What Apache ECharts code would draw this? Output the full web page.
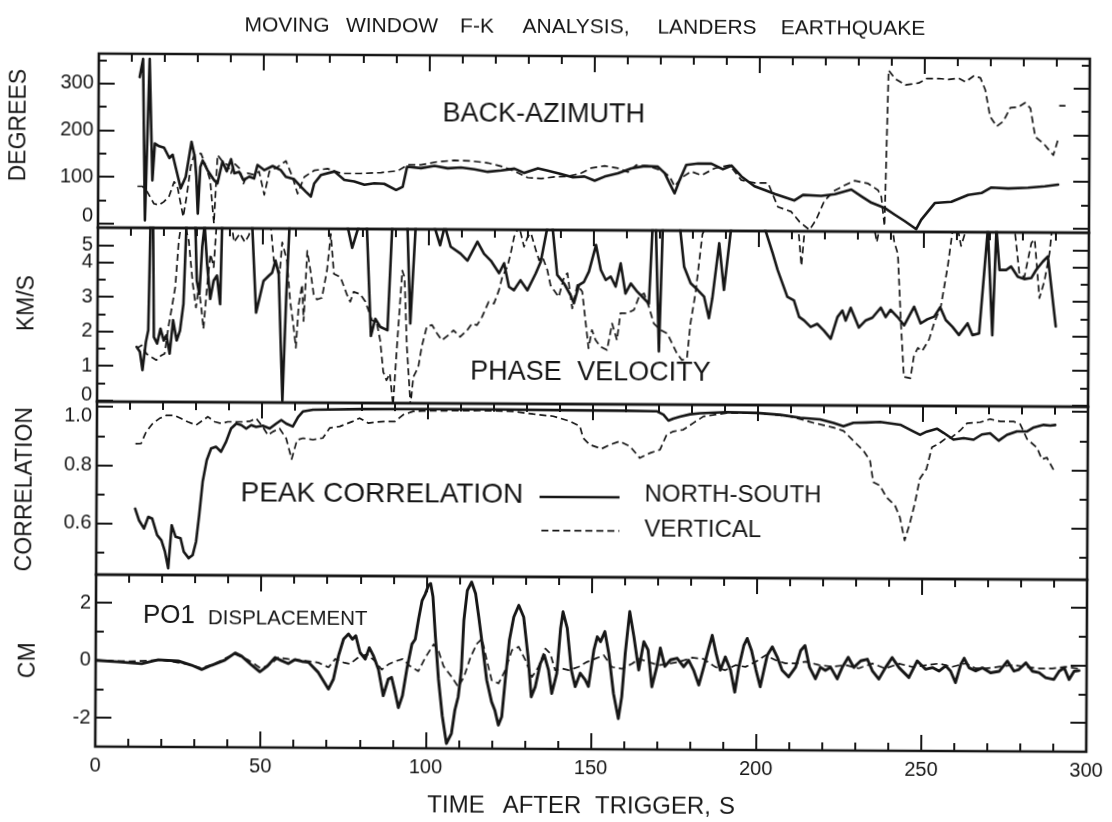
<!DOCTYPE html>
<html>
<head>
<meta charset="utf-8">
<title>Moving window F-K analysis, Landers earthquake</title>
<script src="https://cdn.jsdelivr.net/npm/echarts@6/dist/echarts.min.js"></script>
<style>
  html, body { margin: 0; padding: 0; background: #ffffff; }
  #chart { width: 1112px; height: 822px; transform: rotate(0.3deg); transform-origin: 50% 50%; }
</style>
</head>
<body>
<div id="chart"></div>
<script>
// ---------- time axis (seconds after trigger) ----------
const timeMajor = [0, 50, 100, 150, 200, 250, 300];
const timeMinor = [10, 20, 30, 40, 60, 70, 80, 90, 110, 120, 130, 140, 160, 170, 180, 190, 210, 220, 230, 240, 260, 270, 280, 290];
const timeLabelAt = [0, 50, 100, 150, 200, 250, 300];

// ---------- back-azimuth (degrees) ----------
const azMajor = [0, 100, 200, 300];
const azMinor = [50, 150, 250, 350];
const azLabelAt = [0, 100, 200, 300];
const azLabelText = ['0', '100', '200', '300'];
const azNS = [[12.4,314],[13.4,353],[14.2,7],[15.4,353],[16.4,93],[17.1,172],[18.4,166],[19.9,163],[21.5,141],[22.5,148],[23.5,119],[25,76],[26.5,101],[28.2,176],[29.2,144],[29.7,101],[30.2,22],[30.9,122],[31.6,136],[33.1,115],[35.1,94],[36.1,87],[37.6,134],[38.9,113],[40.2,139],[41.2,109],[42.7,112],[44,94],[45.7,102],[47.2,98],[48.2,127],[50.3,116],[52.8,125],[55.3,116],[56.8,102],[59.3,97],[61.4,81],[62.9,70],[64.4,60],[65.4,88],[67.4,106],[71.5,114],[74.5,96],[77.5,93],[80.6,86],[83.6,89],[86.6,88],[90.2,75],[92.2,82],[93.5,125],[97.7,122],[101.8,127],[105.8,122],[109.8,124],[113.9,120],[117.9,115],[122,118],[126,122],[129,113],[133.1,123],[136.1,118],[140.1,111],[143.7,104],[147.2,106],[150.3,97],[153.3,106],[157.3,113],[161.4,124],[165.4,129],[169.4,128],[171.5,114],[173,92],[174.5,71],[176,99],[178,132],[181.6,135],[185.6,135],[189.1,123],[191.7,131],[194.7,108],[198.7,87],[201.8,79],[204.8,71],[210.8,57],[213.4,69],[218.9,67],[223,71],[228,81],[231,67],[234.1,53],[238.1,42],[241.1,28],[244.2,14],[247.7,-3],[249.2,17],[253.3,53],[258.3,56],[263.4,71],[267.4,75],[270.4,87],[275.5,85],[281.5,87],[286.6,90],[290.6,94]];
const azV = [[11.9,80],[13.4,80],[14.9,68],[16.9,43],[18.4,40],[19.9,47],[21.5,59],[23,90],[24,80],[24.8,51],[25.8,15],[26.8,59],[28,123],[29,148],[31.1,151],[32.6,123],[33.9,94],[35.1,1],[36.1,148],[37.6,134],[39.1,127],[40.2,109],[41.2,130],[42.7,120],[44,87],[45.2,109],[47.2,106],[48.7,113],[50.3,63],[51.8,113],[54.3,123],[56.8,136],[58.8,102],[60.4,66],[62.4,102],[65.4,116],[69.4,120],[73.5,110],[79.5,110],[85.6,112],[90.7,116],[93.7,129],[97.7,129],[102.8,136],[107.8,139],[112.9,138],[117.9,134],[122,127],[126,117],[130,103],[134.1,101],[138.1,105],[142.2,106],[146.2,113],[149.2,124],[153.3,129],[157.3,124],[160.4,116],[162.9,131],[166.4,129],[170.5,120],[173,107],[174.5,86],[176.5,104],[179.5,118],[182.6,110],[186.6,125],[191.1,132],[194.7,100],[198.7,94],[202.8,94],[205.8,43],[209.8,33],[212.4,11],[215.4,-6],[217.4,16],[219.9,57],[223,79],[226,90],[229,100],[233.1,94],[236.1,80],[237.1,66],[238.1,3],[239.1,337],[241.1,319],[244.2,306],[248.2,310],[250.7,320],[254.3,320],[257.3,318],[260.3,321],[262.4,313],[264.9,326],[266.9,322],[268.4,296],[269.9,239],[271.9,218],[273.9,229],[276,258],[278.5,260],[280.5,269],[282.1,257],[283.6,196],[286.1,182],[289.1,157],[290.6,193],[290.7,'-'],[290.8,263],[292.7,263]];

// ---------- phase velocity (km/s) ----------
const velMajor = [0, 1, 2, 3, 4, 4.5];
const velMinor = [0.5, 1.5, 2.5, 3.5];
const velLabelAt = [0, 1, 2, 3, 4];
const velLabelText = ['0', '1', '2', '3', '4'];
const velTopLabelAt = [4.5];
const velTopLabelText = ['5'];
const velNS = [[11.9,1.55],[12.9,1.41],[13.7,0.88],[14.7,1.7],[15.4,2.04],[15.9,5.1],[16.7,5.1],[17.1,1.84],[18.1,1.65],[19.1,2.08],[20.1,1.74],[20.9,1.89],[21.9,1.36],[22.9,2.33],[24,1.74],[25,2.03],[26,2.8],[26.8,5.1],[29.5,5.1],[30,3.48],[30.8,3.09],[31.6,4.46],[32.3,5.1],[33.1,3.97],[34.1,2.95],[35.1,3.48],[36.1,3.63],[37.1,2.8],[37.6,5.1],[46.7,5.1],[48,2.56],[50.2,3.48],[51.8,3.63],[52.8,3.72],[53.8,4.07],[54.8,3.68],[56.1,0.02],[57.1,3.0],[58,5.1],[75.5,5.1],[77,4.45],[79,5.1],[81.4,5.1],[82.8,1.9],[84.1,2.4],[85.6,2.17],[87.8,2.07],[89.1,5.1],[93.7,5.1],[94.7,2.27],[96.2,5.1],[101.8,5.1],[103.6,4.54],[105,5.1],[106.8,4.5],[109.8,4.3],[111.9,4.1],[114.9,4.65],[116.9,4.3],[119,4.1],[121.5,3.74],[123,4.03],[124.5,3.35],[126,3.25],[128,3.54],[130.1,3.25],[132.6,3.74],[134.1,4.08],[136.1,5.1],[137.6,5.1],[139.1,3.7],[141.2,3.45],[143.2,3.11],[144.2,2.88],[145.7,3.41],[147.2,3.5],[148.7,3.8],[150.8,4.57],[152.3,3.85],[153.8,3.56],[155.3,3.66],[156.8,3.37],[158.3,4.04],[159.8,3.17],[161.4,3.46],[163.4,3.22],[165.4,3.03],[166.9,2.88],[167.9,5.1],[168.9,5.1],[170,1.5],[171,5.1],[176.2,5.1],[177.5,3.96],[179.5,3.48],[181.6,3.29],[183.6,3.09],[185.1,2.47],[186.1,3.05],[188.1,4.64],[189.6,3.29],[191.7,5.1],[201.8,5.1],[204.3,4.36],[205.8,3.88],[208.8,3.1],[210.8,3.0],[212.4,2.52],[213.9,2.42],[215.9,2.23],[217.9,2.32],[219.9,2.13],[222,1.89],[224,2.52],[225.5,2.71],[226.5,2.42],[228,2.79],[230.5,2.22],[232.6,2.43],[234.6,2.51],[237.1,2.8],[238.6,2.53],[240.1,2.74],[242.2,2.53],[244.2,2.29],[247.2,2.83],[249.2,2.35],[251.2,2.47],[253.3,2.55],[255.1,2.82],[256.8,2.45],[258.8,2.26],[260.8,2.02],[263.4,2.36],[264.9,2.02],[266.9,2.07],[269.4,5.1],[270.9,2.02],[272,5.1],[273,3.91],[275,3.91],[276.5,4.01],[278.5,3.72],[280.5,3.65],[282.6,3.68],[284.1,3.92],[286.1,4.16],[287.6,4.31],[290.1,2.28]];
const velV = [[11.9,1.5],[13.4,1.6],[14.9,1.35],[16.4,1.26],[17.9,1.17],[19.4,1.31],[20.4,1.36],[21.5,2.14],[22.5,2.7],[23.5,3.29],[24.5,4.64],[25.2,5.1],[26.3,5.1],[27.5,4.64],[28.8,3.38],[29.8,2.7],[30.6,3.29],[31.4,2.7],[32.1,2.08],[33.1,3.29],[34.1,4.25],[35.1,3.87],[35.9,5.1],[40.5,5.1],[41.2,4.6],[43,4.85],[44.5,4.6],[45.7,4.8],[46.5,5.1],[52.3,5.1],[53.3,4.06],[55.1,3.72],[55.8,4.6],[57.3,4.06],[58.3,2.9],[59.3,2.22],[60.1,1.55],[60.9,2.8],[61.9,3.38],[62.4,2.32],[63.4,4.36],[64.4,3.78],[65.4,3.1],[66.4,2.95],[67.9,3.0],[69.4,3.79],[70.5,4.85],[71.5,3.7],[73.5,3.6],[75.5,3.09],[76.5,2.89],[77.5,3.18],[79.5,3.11],[81.1,2.89],[83.1,2.36],[84.6,2.27],[85.6,1.78],[86.6,0.86],[87.6,0.62],[88.6,0.82],[89.6,-0.1],[90.7,1.6],[92.2,3.8],[92.9,3.6],[93.7,1.6],[94.9,-0.1],[95.7,0.72],[97.2,1.01],[98.2,1.6],[99.7,2.18],[101.3,2.23],[102.8,1.99],[104.3,1.79],[106.3,1.94],[107.8,2.08],[109.8,1.89],[111.9,2.08],[113.4,2.28],[114.9,2.23],[116.4,2.47],[118.4,2.91],[120,2.86],[121.5,3.25],[122.5,3.64],[124,3.93],[125,4.32],[126,4.8],[127.5,5.1],[129,4.51],[130.1,4.8],[131.1,4.9],[132.6,4.41],[133.6,4.12],[134.6,4.22],[136.1,3.84],[137.1,3.4],[138.1,3.26],[139.6,3.06],[141.2,3.65],[142.2,3.75],[143.7,2.73],[145.2,3.41],[146.7,3.22],[147.7,2.4],[148.7,1.58],[149.7,2.11],[150.8,1.82],[152.3,1.63],[154.3,1.53],[155.8,2.3],[157.3,1.82],[158.3,2.6],[160.4,2.6],[162.4,2.7],[163.9,3.08],[165.4,3.18],[166.9,2.79],[168.4,2.31],[170.5,2.12],[172.5,2.02],[174,1.73],[175.5,1.44],[177,1.25],[178.5,1.3],[179.5,2.3],[181,3.2],[183,4.9],[184,5.1],[212,5.1],[213,4.0],[214,5.1],[235,5.1],[235.8,4.7],[236.6,5.1],[240.5,5.1],[241.1,4.7],[242.2,4.35],[243.2,2.4],[244.2,0.8],[246.2,0.76],[247.2,1.4],[248.4,1.64],[249.7,1.55],[251.8,1.89],[253.3,2.37],[255.3,2.85],[257.3,4.0],[258.8,5.1],[260.3,5.1],[261.3,4.6],[262.9,5.1],[277.5,5.1],[279,3.8],[280.5,3.7],[282.6,4.7],[283.6,4.8],[285.1,3.1],[286.6,3.6],[288.1,4.4],[288.8,5.1],[289.5,5.1]];

// ---------- peak correlation ----------
const corrMajor = [0.6, 0.8, 1.0];
const corrMinor = [0.5, 0.7, 0.9];
const corrLabelAt = [0.6, 0.8, 1.0];
const corrLabelText = ['0.6', '0.8', '1.0'];
const corrNS = [[11.7,0.651],[12.9,0.611],[14.4,0.583],[15.7,0.623],[16.9,0.617],[18.4,0.561],[19.7,0.543],[20.8,0.504],[21.8,0.447],[22.8,0.595],[24,0.555],[25.5,0.55],[26.5,0.504],[28,0.482],[29.2,0.493],[30.2,0.539],[31.1,0.63],[32.1,0.745],[33.3,0.819],[34.6,0.859],[36.1,0.865],[37.6,0.848],[39.1,0.882],[40.6,0.928],[42.2,0.945],[43.7,0.94],[45.2,0.928],[46.7,0.94],[48.2,0.934],[50.2,0.938],[52.3,0.929],[54.3,0.946],[55.8,0.958],[57.3,0.946],[59.3,0.936],[60.9,0.969],[62.4,0.988],[65.4,0.994],[80,0.997],[100,0.998],[120,0.998],[140,0.997],[160,0.996],[169.4,0.995],[171.5,0.983],[173,0.963],[174.5,0.97],[176.5,0.977],[179.5,0.985],[182.6,0.989],[190.6,0.993],[199.7,0.991],[206.8,0.985],[212.9,0.975],[218.9,0.97],[223,0.958],[226,0.947],[229,0.959],[233,0.96],[237.1,0.962],[243.2,0.953],[247.2,0.93],[249.2,0.919],[251.2,0.93],[254.3,0.94],[256.3,0.926],[259.3,0.903],[262.4,0.908],[265.4,0.903],[267.9,0.921],[270.4,0.925],[273,0.9],[275.5,0.92],[278.5,0.932],[281.5,0.932],[283.6,0.946],[286.6,0.955],[288.6,0.953],[290.1,0.955]];
const corrV = [[11.7,0.874],[13.4,0.875],[14.9,0.915],[16.9,0.944],[18.9,0.961],[20.9,0.972],[23.5,0.972],[25.5,0.961],[27.5,0.95],[30,0.939],[32.1,0.956],[33.6,0.968],[35.6,0.951],[37.6,0.945],[39.6,0.951],[42.2,0.951],[44.2,0.951],[46.2,0.953],[48.2,0.963],[50.2,0.934],[51.8,0.906],[53.3,0.918],[55.3,0.929],[57.3,0.895],[59,0.824],[60.6,0.89],[62.4,0.896],[65.4,0.891],[68.4,0.897],[70.5,0.932],[73.5,0.937],[77.5,0.955],[79.5,0.966],[82.1,0.949],[84.6,0.953],[87.6,0.955],[90.2,0.955],[92.7,0.978],[95.7,0.99],[98.7,0.992],[105.8,0.993],[115.9,0.994],[126,0.992],[132.1,0.983],[138.1,0.976],[143.2,0.959],[146.2,0.942],[147.2,0.902],[149.2,0.879],[152.8,0.865],[155.3,0.879],[158.3,0.891],[161.4,0.874],[164.4,0.834],[167.4,0.851],[170.5,0.863],[172.5,0.915],[174.5,0.926],[177.5,0.932],[180.5,0.955],[183.6,0.978],[190.6,0.99],[199.7,0.991],[209.8,0.98],[216.9,0.958],[223,0.942],[226,0.931],[229,0.897],[232.1,0.863],[234.1,0.829],[235.1,0.755],[237.1,0.744],[239.1,0.704],[241.7,0.676],[243.2,0.636],[244.7,0.556],[246.2,0.613],[247.7,0.682],[249.2,0.768],[251.2,0.802],[252.8,0.876],[254.8,0.888],[256.8,0.905],[258.8,0.911],[261.3,0.934],[263.4,0.959],[267.4,0.963],[270.4,0.974],[273.5,0.966],[277.5,0.966],[279.5,0.957],[281.6,0.906],[284.6,0.877],[286.1,0.837],[287.6,0.843],[290.1,0.792]];

// ---------- PO1 displacement (cm) ----------
const dispMajor = [-2, 0, 2];
const dispMinor = [-1, 1];
const dispLabelAt = [-2, 0, 2];
const dispLabelText = ['-2', '0', '2'];
const dispNS = [[0.3,0],[6.8,-0.05],[13.9,-0.11],[18.9,0.03],[25,-0.01],[29,-0.15],[32.1,-0.3],[35.1,-0.15],[39.1,0.03],[42.2,0.28],[44.2,0.17],[47.2,-0.14],[49.7,-0.37],[51.8,-0.19],[54.3,0.13],[56.3,0.02],[58.3,-0.08],[60.3,0.06],[62.4,0.0],[64.4,-0.03],[67.4,-0.38],[70.5,-0.96],[72,-0.61],[73.5,0.2],[75,0.78],[76.5,0.96],[77.7,0.78],[78.7,0.9],[80,0.32],[81.6,0.09],[82.8,0.49],[84.1,0.2],[85.6,-0.26],[87.1,-1.18],[88.6,-0.6],[89.6,-0.54],[90.7,-1.06],[91.7,-1.59],[92.9,-1.18],[94.2,-0.25],[95.7,0.62],[96.7,0.79],[97.7,1.5],[98.7,2.13],[99.7,2.37],[100.6,2.66],[101.3,2.73],[102,2.28],[102.8,0.9],[103.8,-0.6],[105,-1.87],[106.3,-2.83],[107.8,-2.48],[108.8,-1.67],[109.8,-1.2],[110.7,-0.28],[111.4,1.46],[112.4,2.5],[113.7,2.79],[114.9,2.39],[115.9,1.58],[117.1,0.54],[118.4,-0.62],[119.9,-1.37],[120.9,-1.66],[122,-2.18],[123,-1.89],[124,-0.62],[125.2,0.77],[126.5,1.58],[128,1.99],[129.5,1.58],[130.9,0.19],[131.9,-1.19],[133.1,-0.84],[134.6,-0.03],[135.8,0.26],[137.1,-0.26],[138.1,-1.07],[139.6,-0.37],[140.7,1.2],[141.4,1.77],[142.7,1.2],[144,-0.25],[145.2,-0.83],[146.7,-0.36],[148.2,-0.59],[149.2,-0.82],[150.8,0.45],[151.8,0.91],[152.8,0.74],[154.1,1.09],[155.3,0.34],[156.8,-1.06],[158.3,-1.93],[159.3,-1.17],[160.3,0.34],[161.6,1.79],[162.9,0.92],[164.4,-0.24],[165.9,0.75],[167.2,0.46],[168.4,-0.82],[169.9,-0.11],[170.9,0.53],[172.3,-0.11],[174,0.12],[176,0.18],[178,-0.12],[179.5,0.11],[181,-0.23],[182.6,-0.75],[184.1,-0.12],[185.4,0.46],[186.6,0.98],[187.8,0.35],[189.1,-0.23],[190.6,0.23],[192.2,-0.23],[193.5,-0.99],[194.7,-0.12],[196.2,0.64],[197.2,0.88],[198.5,0.47],[199.9,-0.22],[201.2,-0.8],[202.3,-0.22],[203.3,0.3],[204.8,0.59],[206.3,0.24],[207.8,-0.22],[209.8,-0.45],[211.9,-0.11],[213.4,0.47],[214.7,0.64],[216.1,-0.11],[217.9,-0.51],[219.4,-0.11],[220.9,-0.22],[222.5,-0.11],[224.5,-0.51],[226,-0.11],[227.8,0.24],[229.5,-0.11],[231.6,0.12],[233.6,0.18],[235.1,-0.22],[237.1,-0.51],[239.1,-0.11],[241.1,0.24],[243.2,-0.11],[246.2,-0.45],[248.7,0.13],[251.2,-0.16],[253.3,-0.1],[255.3,-0.22],[257.3,-0.04],[258.8,-0.22],[260.3,-0.62],[261.9,0.02],[262.9,0.23],[264.4,-0.1],[266.4,-0.21],[268.4,-0.1],[270.9,-0.27],[273.5,-0.22],[276,0.14],[278,-0.21],[279.5,-0.15],[281.6,0.08],[283.6,-0.21],[285.6,-0.26],[287.6,-0.43],[290.1,-0.49],[291.7,-0.2],[293.2,-0.09],[294.7,-0.49],[296.2,-0.2],[297.7,-0.18]];
const dispV = [[0,0],[10,-0.03],[20,0.02],[28,-0.12],[32,-0.25],[36,-0.1],[42,0.25],[46,0.05],[50,-0.25],[53,-0.1],[55.3,0.13],[58.3,0.08],[63.4,0.02],[67.4,-0.04],[70.5,-0.2],[72.5,0.09],[75,-0.03],[77,-0.08],[79.5,0.15],[82.1,0.26],[84.6,0.02],[86.6,-0.27],[88.6,-0.09],[90.7,0.02],[92.9,0.1],[95.2,-0.15],[97.7,-0.32],[99.7,0.14],[102.3,0.62],[103.8,0.38],[105.3,-0.14],[107.8,-0.51],[109.8,-0.86],[111.5,-0.51],[113.5,0.19],[115.4,0.65],[116.9,0.82],[118.4,0.07],[119.9,-0.62],[122,-0.73],[124,-0.27],[126,0.43],[128,0.55],[130.1,0.08],[132.1,-0.5],[134.1,-0.14],[136.1,0.49],[137.6,0.32],[139.1,-0.26],[141.2,-0.2],[143.2,-0.26],[146.2,-0.14],[148.7,0.03],[151.3,0.15],[153.8,0.27],[156.3,-0.14],[159.3,-0.2],[162.4,-0.02],[164.4,0.15],[167.4,0.04],[170.5,-0.07],[173.5,-0.01],[176.5,0.05],[180.5,0.2],[184,0.16],[187.6,-0.12],[190.6,-0.23],[193.7,-0.05],[196.7,-0.11],[199.8,0.07],[202.8,0.3],[205.8,0.13],[208.8,0.02],[211.9,0.02],[214.9,0.08],[218.9,-0.03],[223,-0.09],[227,-0.03],[231,-0.14],[235.1,0.03],[239.1,-0.14],[243.2,0.03],[247.2,-0.08],[251.2,-0.02],[255.3,0.04],[259.3,-0.07],[263.4,0.05],[266.4,-0.12],[269.4,-0.12],[273.5,-0.06],[277.5,0],[281.6,-0.06],[285.6,-0.11],[289.6,-0.11],[293.7,-0.05],[297.7,-0.11]];

// ---------- text ----------
const titleWords = ['MOVING', 'WINDOW', 'F-K', 'ANALYSIS,', 'LANDERS', 'EARTHQUAKE'];
const timeNameWords = ['TIME', 'AFTER', 'TRIGGER,', 'S'];
const panelNames = ['DEGREES', 'KM/S', 'CORRELATION', 'CM'];
const legendText = ['NORTH-SOUTH', 'VERTICAL'];

// ---------- layout & style ----------
const INK = '#161616';
const FONT = "'Liberation Sans', Arial, Helvetica, sans-serif";
const PLOT_LEFT = 97;
const PLOT_WIDTH = 991;
const TICK_LINE = { color: INK, width: 2 };

const panels = [
  { top: 56,  height: 174, min: -9,    max: 364,   major: azMajor,   minor: azMinor,   labelAt: azLabelAt,   labelText: azLabelText,   shift: { '0': -7 }, solid: azNS,   dashed: azV,   solidWidth: 2.6 },
  { top: 230, height: 174, min: -0.04, max: 5.0,   major: velMajor,  minor: velMinor,  labelAt: velLabelAt,  labelText: velLabelText,  shift: { '0': -5 }, solid: velNS,  dashed: velV,  solidWidth: 2.6,
    extraLabelAt: velTopLabelAt, extraLabelText: velTopLabelText },
  { top: 404, height: 173, min: 0.424, max: 1.018, major: corrMajor, minor: corrMinor, labelAt: corrLabelAt, labelText: corrLabelText, shift: { '1': 9 },  solid: corrNS, dashed: corrV, solidWidth: 2.6 },
  { top: 577, height: 172, min: -3,    max: 2.98,  major: dispMajor, minor: dispMinor, labelAt: dispLabelAt, labelText: dispLabelText, shift: {},         solid: dispNS, dashed: dispV, solidWidth: 2.9 }
];

const grids = [];
const xAxes = [];
const yAxes = [];
const series = [];

function timeAxis(gridIndex, position, values, length, withLabels) {
  return {
    type: 'value', gridIndex, min: 0, max: 300, position,
    axisLine: { show: false, onZero: false },
    axisTick: { show: true, inside: true, length, customValues: values, lineStyle: TICK_LINE },
    axisLabel: withLabels ? {
      show: true, customValues: timeLabelAt, formatter: v => String(v),
      fontSize: 20, fontFamily: FONT, color: INK, margin: 9,
      showMinLabel: true, showMaxLabel: true, hideOverlap: false
    } : { show: false },
    splitLine: { show: false }
  };
}

// y axis of one panel; labels (if any) come from `at` / `text`
function valueAxis(gridIndex, p, position, ticks, length, at, text) {
  const base = { fontSize: 20, fontFamily: FONT, color: INK, lineHeight: 16 };
  let label = { show: false };
  if (at) {
    const shiftVals = Object.values(p.shift);
    const s = shiftVals.length ? Math.abs(shiftVals[0]) : 0;
    label = {
      show: true, customValues: at, margin: 5, align: 'right',
      showMinLabel: true, showMaxLabel: true, hideOverlap: false,
      formatter: v => {
        const i = at.findIndex(a => Math.abs(a - v) < 1e-6);
        const txt = i >= 0 ? text[i] : String(v);
        const sh = p.shift[String(v)] || 0;
        if (sh < 0) return '{u|' + txt + '}';
        if (sh > 0) return '{d|' + txt + '}';
        return '{n|' + txt + '}';
      },
      rich: {
        n: Object.assign({}, base),
        u: Object.assign({ padding: [0, 0, 2 * s, 0] }, base),
        d: Object.assign({ padding: [2 * s, 0, 0, 0] }, base)
      }
    };
  }
  return {
    type: 'value', gridIndex, min: p.min, max: p.max, position,
    axisLine: { show: false, onZero: false },
    axisTick: ticks ? { show: true, inside: true, length, customValues: ticks, lineStyle: TICK_LINE } : { show: false },
    axisLabel: label,
    splitLine: { show: false }
  };
}

panels.forEach((p, i) => {
  grids.push({
    left: PLOT_LEFT, width: PLOT_WIDTH, top: p.top, height: p.height,
    show: true, borderColor: INK, borderWidth: 2.6, backgroundColor: 'transparent',
    containLabel: false, outerBoundsMode: 'none'
  });

  const xIndex = xAxes.length;
  xAxes.push(timeAxis(i, 'top', timeMajor, 16, false));
  xAxes.push(timeAxis(i, 'top', timeMinor, 8, false));
  if (i === panels.length - 1) {
    xAxes.push(timeAxis(i, 'bottom', timeMajor, 16, true));
    xAxes.push(timeAxis(i, 'bottom', timeMinor, 8, false));
  }

  const yIndex = yAxes.length;
  yAxes.push(valueAxis(i, p, 'left', p.major, 16, p.labelAt, p.labelText));
  yAxes.push(valueAxis(i, p, 'left', p.minor, 8));
  yAxes.push(valueAxis(i, p, 'right', p.major, 16));
  yAxes.push(valueAxis(i, p, 'right', p.minor, 8));
  if (p.extraLabelAt) {
    yAxes.push(valueAxis(i, p, 'left', null, 0, p.extraLabelAt, p.extraLabelText));
  }

  series.push({
    name: legendText[1], type: 'line', xAxisIndex: xIndex, yAxisIndex: yIndex,
    data: p.dashed, showSymbol: false, symbol: 'none', clip: true, silent: true,
    connectNulls: false, z: 2,
    lineStyle: { color: INK, width: 1.7, type: [7, 4], cap: 'butt', join: 'round' }
  });
  series.push({
    name: legendText[0], type: 'line', xAxisIndex: xIndex, yAxisIndex: yIndex,
    data: p.solid, showSymbol: false, symbol: 'none', clip: true, silent: true, z: 3,
    lineStyle: { color: INK, width: p.solidWidth, type: 'solid', cap: 'round', join: 'round' }
  });
});

// free-standing text and legend pieces
function label(text, x, y, size, align, rotation) {
  return {
    type: 'text', x, y, rotation: rotation || 0, silent: true,
    style: { text, fill: INK, font: size + 'px ' + FONT, align: align || 'left', verticalAlign: 'middle' }
  };
}

const titleCenters = [285, 390, 475, 574, 705, 851];
const timeNameCenters = [458, 544, 655, 729];
const panelNamePos = [[17.5, 128], [26.5, 306], [25.5, 492], [29.5, 663]];

const graphics = [];
titleWords.forEach((w, i) => graphics.push(label(w, titleCenters[i], 27, 21, 'center')));
timeNameWords.forEach((w, i) => graphics.push(label(w, timeNameCenters[i], 806, 24, 'center')));
panelNames.forEach((w, i) => graphics.push(label(w, panelNamePos[i][0], panelNamePos[i][1], 23, 'center', Math.PI / 2)));

graphics.push(label('BACK-AZIMUTH', 441, 115, 27));
graphics.push(label('PHASE', 470, 373, 27));
graphics.push(label('VELOCITY', 577, 373, 27));
graphics.push(label('PEAK CORRELATION', 241, 495.5, 28));
graphics.push(label('PO1', 144, 618, 26));
graphics.push(label('DISPLACEMENT', 209, 620, 20.5));
graphics.push(label(legendText[0], 645, 494.6, 24));
graphics.push(label(legendText[1], 645, 529, 24));
graphics.push({
  type: 'line', silent: true,
  shape: { x1: 540, y1: 497, x2: 620, y2: 497 },
  style: { stroke: INK, lineWidth: 2.6 }
});
graphics.push({
  type: 'line', silent: true,
  shape: { x1: 542, y1: 530.6, x2: 620, y2: 530.6 },
  style: { stroke: INK, lineWidth: 1.7, lineDash: [7, 4] }
});

const chart = echarts.init(document.getElementById('chart'), null, { renderer: 'canvas' });
chart.setOption({
  animation: false,
  backgroundColor: '#ffffff',
  textStyle: { fontFamily: FONT, color: INK },
  grid: grids,
  xAxis: xAxes,
  yAxis: yAxes,
  series,
  graphic: { elements: graphics }
});
</script>
</body>
</html>
